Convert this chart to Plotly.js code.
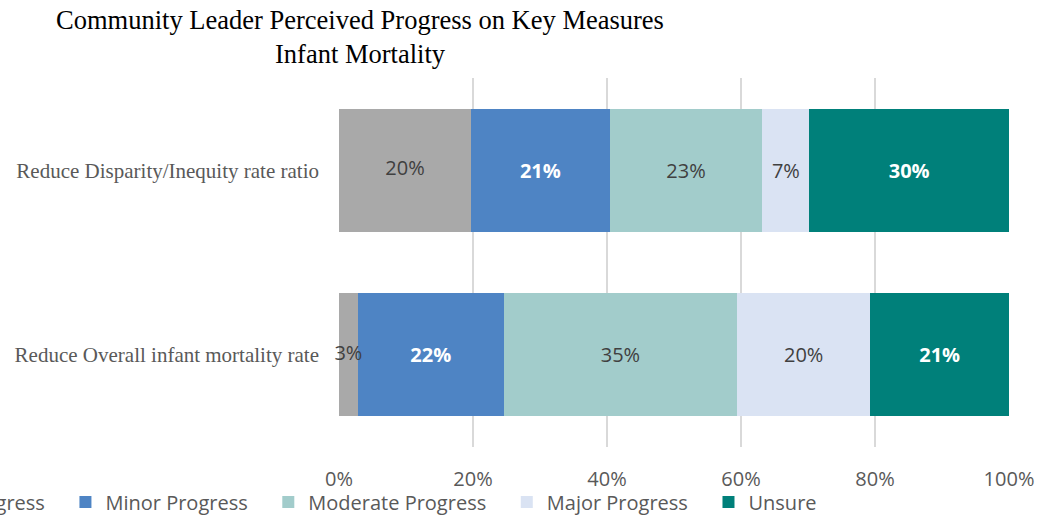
<!DOCTYPE html>
<html>
<head>
<meta charset="utf-8">
<script src="https://cdn.plot.ly/plotly-3.0.1.min.js"></script>
<style>html,body{margin:0;padding:0;background:#fff;}#chart{width:1050px;height:517px;}</style>
</head>
<body>
<div id="chart"></div>
<script>
// Data (fractions of respondents)
const categories = ["Reduce Overall infant mortality rate", "Reduce Disparity/Inequity rate ratio"];
const seriesNames = ["No Progress", "Minor Progress", "Moderate Progress", "Major Progress", "Unsure"];
const noProgress = [0.028, 0.197];
const minorProgress = [0.218, 0.207];
const moderateProgress = [0.348, 0.228];
const majorProgress = [0.199, 0.070];
const unsure = [0.207, 0.298];
const tickValues = [0, 0.2, 0.4, 0.6, 0.8, 1.0];
const tickLabels = ["0%", "20%", "40%", "60%", "80%", "100%"];

const seriesValues = [noProgress, minorProgress, moderateProgress, majorProgress, unsure];
const colors = ["#A9A9A9", "#4E84C4", "#A2CCCB", "#DAE3F3", "#00807A"];
const labelColors = ["#404040", "#FFFFFF", "#404040", "#404040", "#FFFFFF"];
const labelWeights = ["normal", "bold", "normal", "normal", "bold"];
const sansFont = "'Open Sans', sans-serif";
const pad = "\u00A0\u00A0\u00A0";
const pct = v => Math.round(v * 100) + "%";

const traces = seriesValues.map((vals, i) => ({
  type: "bar",
  orientation: "h",
  name: seriesNames[i] + pad,
  y: categories,
  x: vals,
  marker: {color: colors[i], line: {width: 0}},
  text: i === 0 ? null : vals.map(pct),
  texttemplate: i === 0 ? "" : "%{text}",
  textposition: i === 0 ? "none" : "inside",
  insidetextanchor: "middle",
  constraintext: "none",
  textangle: 0,
  textfont: {family: sansFont, size: 20, color: labelColors[i], weight: labelWeights[i]},
  hoverinfo: "x+name"
}));

// labels of the first (thin) segment drawn on top so they can overflow their bar
traces.push({
  type: "scatter",
  mode: "text",
  x: noProgress.map(v => v / 2),
  y: categories,
  text: noProgress.map(pct),
  textposition: "middle center",
  textfont: {family: sansFont, size: 20, color: labelColors[0]},
  showlegend: false,
  cliponaxis: false,
  hoverinfo: "skip"
});

const layout = {
  width: 1050,
  height: 517,
  barmode: "stack",
  bargap: 0.333,
  paper_bgcolor: "#ffffff",
  plot_bgcolor: "#ffffff",
  margin: {l: 339, r: 41, t: 78, b: 70, autoexpand: false},
  title: {
    text: "Community Leader Perceived Progress on Key Measures<br>Infant Mortality",
    font: {family: "'Liberation Serif', 'Times New Roman', serif", size: 26.5, color: "#000000"},
    x: 360 / 1050, xanchor: "center", xref: "container",
    y: 1 - 29 / 517, yanchor: "top", yref: "container"
  },
  xaxis: {
    range: [0, 1],
    tickvals: tickValues,
    ticktext: tickLabels,
    showgrid: true,
    gridcolor: "#D9D9D9",
    gridwidth: 2,
    zeroline: false,
    showline: false,
    ticks: "",
    ticklabelstandoff: 18,
    tickfont: {family: sansFont, size: 20, color: "#595959"},
    fixedrange: true
  },
  yaxis: {
    type: "category",
    categoryorder: "array",
    categoryarray: categories,
    showgrid: false,
    zeroline: false,
    showline: false,
    ticks: "",
    ticklabelstandoff: 19,
    tickfont: {family: "'Liberation Serif', 'Times New Roman', serif", size: 21, color: "#595959"},
    fixedrange: true
  },
  legend: {
    orientation: "h",
    traceorder: "normal",
    x: (-109 - 339) / 670, xanchor: "left",
    y: (447 - 502) / 369, yanchor: "middle",
    font: {family: sansFont, size: 20, color: "#595959"},
    bgcolor: "rgba(0,0,0,0)"
  },
  showlegend: true
};

Plotly.newPlot("chart", traces, layout, {displayModeBar: false, staticPlot: true});
</script>
</body>
</html>
